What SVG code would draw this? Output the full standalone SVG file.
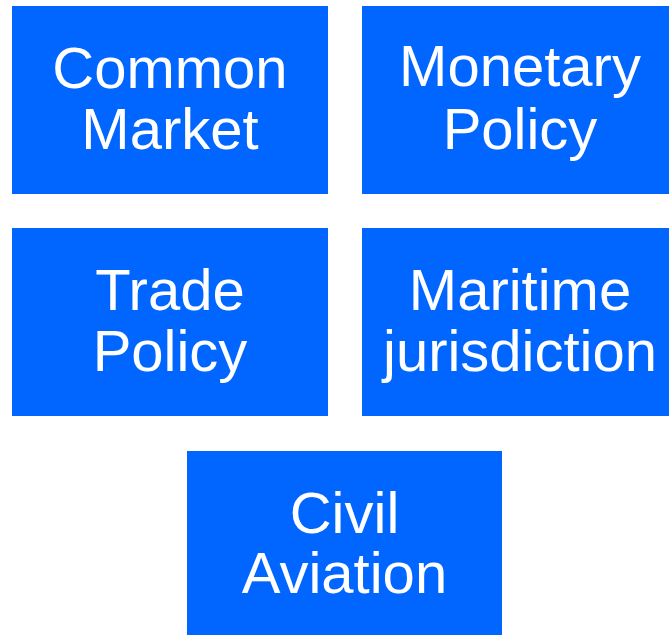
<svg xmlns="http://www.w3.org/2000/svg" width="669" height="635" viewBox="0 0 669 635">
<style>
.box{fill:#0066FF}
.t{fill:#FFFFFF;font-family:"Liberation Sans",Arial,sans-serif;font-size:58px;text-anchor:middle}
</style>
<rect width="669" height="635" fill="#FFFFFF"/>
<g id="common-market">
<rect class="box" x="12" y="6" width="316" height="188"/>
<text class="t" x="170" y="88">Common</text>
<text class="t" x="170" y="149">Market</text>
</g>
<g id="monetary-policy">
<rect class="box" x="362" y="6" width="316" height="188"/>
<text class="t" x="520" y="86">Monetary</text>
<text class="t" x="520" y="149">Policy</text>
</g>
<g id="trade-policy">
<rect class="box" x="12" y="228" width="316" height="188"/>
<text class="t" x="170" y="310">Trade</text>
<text class="t" x="170" y="371">Policy</text>
</g>
<g id="maritime-jurisdiction">
<rect class="box" x="362" y="228" width="316" height="188"/>
<text class="t" x="520" y="310">Maritime</text>
<text class="t" x="520" y="371">jurisdiction</text>
</g>
<g id="civil-aviation">
<rect class="box" x="187" y="451" width="315" height="188"/>
<text class="t" x="344.5" y="533">Civil</text>
<text class="t" x="344.5" y="593">Aviation</text>
</g>
<g id="connectors"></g>
</svg>
